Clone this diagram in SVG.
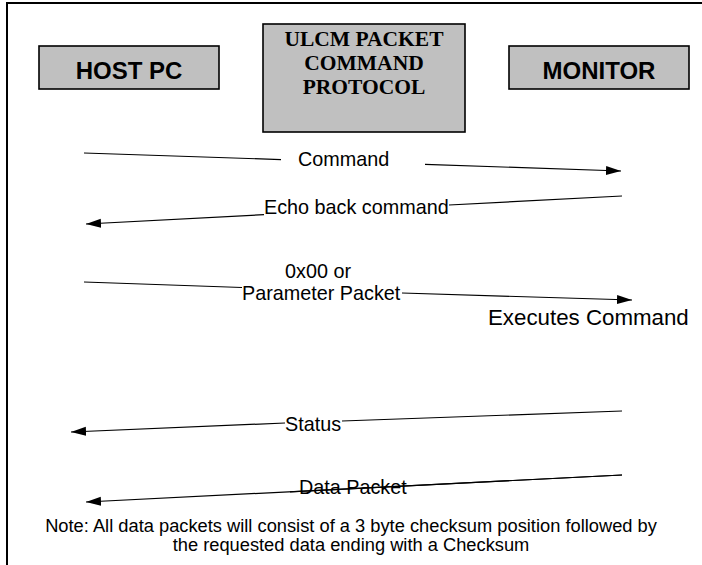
<svg xmlns="http://www.w3.org/2000/svg" width="702" height="565" viewBox="0 0 702 565">
  <defs>
    <marker id="arrow" markerUnits="userSpaceOnUse" markerWidth="16" markerHeight="12" viewBox="0 0 16 12" refX="15" refY="6" orient="auto">
      <path d="M0,1.5 L15,6 L0,10.5 Z" fill="#000"/>
    </marker>
    <style>
      .frame { fill: none; stroke: #000; stroke-width: 2; }
      .box { fill: #c0c0c0; stroke: #000; stroke-width: 1.6; }
      .side { font-family: "Liberation Sans", Arial, sans-serif; font-weight: bold; font-size: 24px; fill: #000; text-anchor: middle; }
      .title { font-family: "Liberation Serif", "Times New Roman", serif; font-weight: bold; font-size: 21.5px; fill: #000; text-anchor: middle; }
      .msg { fill: none; stroke: #000; stroke-width: 1.2; }
      .lbl { font-family: "Liberation Sans", Arial, sans-serif; font-size: 19.8px; fill: #000; }
      .note { font-family: "Liberation Sans", Arial, sans-serif; font-size: 18.3px; fill: #000; text-anchor: middle; }
    </style>
  </defs>

  <!-- outer frame: top and left edges only -->
  <path class="frame" d="M7,565 V3 H702"/>

  <g id="host-pc">
    <rect class="box" x="39" y="46" width="180" height="43"/>
    <text class="side" x="129" y="79">HOST PC</text>
  </g>

  <g id="protocol-title">
    <rect class="box" x="263" y="24" width="202" height="108"/>
    <text class="title" x="364" y="46">ULCM PACKET</text>
    <text class="title" x="364" y="70">COMMAND</text>
    <text class="title" x="364" y="94">PROTOCOL</text>
  </g>

  <g id="monitor">
    <rect class="box" x="509" y="46" width="180" height="43"/>
    <text class="side" x="599" y="79">MONITOR</text>
  </g>

  <g id="connectors">
    <!-- Command: host -> monitor -->
    <line class="msg" x1="84" y1="153" x2="281" y2="159.6"/>
    <line class="msg" x1="425" y1="164.4" x2="621" y2="171" marker-end="url(#arrow)"/>
    <!-- Echo back command: monitor -> host -->
    <line class="msg" x1="622" y1="196" x2="449" y2="205"/>
    <line class="msg" x1="264" y1="214.7" x2="86" y2="224" marker-end="url(#arrow)"/>
    <!-- 0x00 or Parameter Packet: host -> monitor -->
    <line class="msg" x1="84" y1="282" x2="242" y2="287.5"/>
    <line class="msg" x1="402" y1="293" x2="632" y2="300" marker-end="url(#arrow)"/>
    <!-- Status: monitor -> host -->
    <line class="msg" x1="622" y1="411" x2="342" y2="421"/>
    <line class="msg" x1="285" y1="423" x2="71" y2="432" marker-end="url(#arrow)"/>
    <!-- Data Packet: monitor -> host -->
    <line class="msg" x1="622" y1="475" x2="86" y2="502" marker-end="url(#arrow)"/>
  </g>

  <g id="labels">
    <text class="lbl" x="298" y="165.5">Command</text>
    <text class="lbl" x="264" y="214">Echo back command</text>
    <text class="lbl" x="285" y="278">0x00 or</text>
    <text class="lbl" x="242" y="300">Parameter Packet</text>
    <text class="lbl" x="488" y="325" style="font-size:22.3px">Executes Command</text>
    <text class="lbl" x="285" y="431">Status</text>
    <text class="lbl" x="299" y="494">Data Packet</text>
  </g>

  <!-- redraw the data packet stroke over its label -->
  <line class="msg" x1="622" y1="475" x2="290" y2="491.8"/>

  <g id="note">
    <text class="note" x="351" y="532">Note: All data packets will consist of a 3 byte checksum position followed by</text>
    <text class="note" x="351" y="551">the requested data ending with a Checksum</text>
  </g>
</svg>
